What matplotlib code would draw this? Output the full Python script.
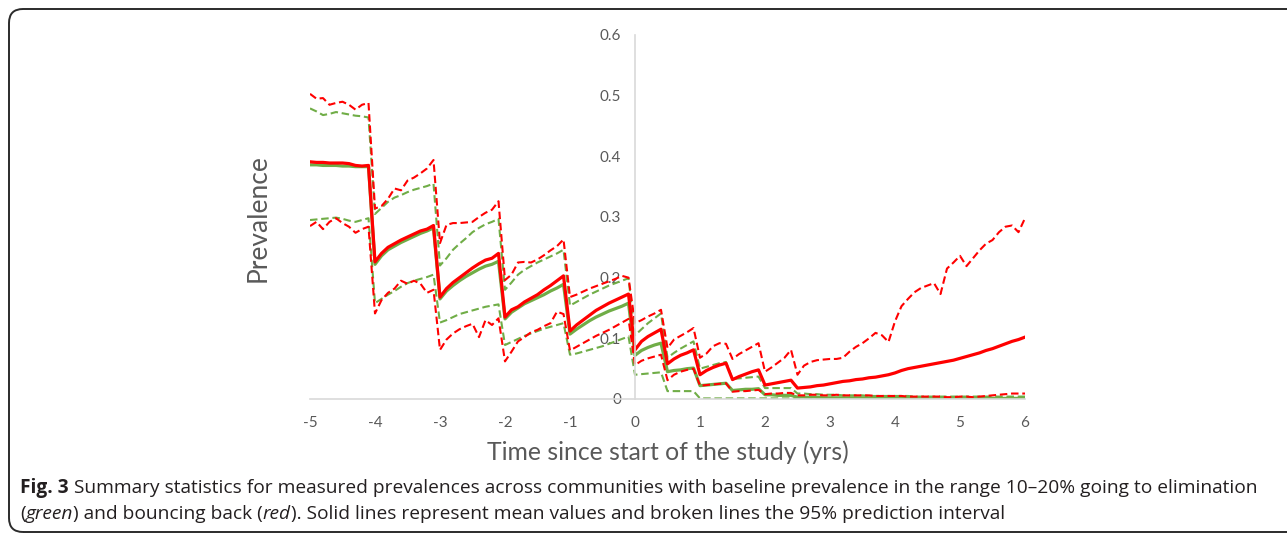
import numpy as np
import matplotlib
matplotlib.use("Agg")
from matplotlib import pyplot as plt
from matplotlib.patches import FancyBboxPatch
from matplotlib.transforms import IdentityTransform

# ---------------------------------------------------------------- data
# time since start of study (yrs), one value every 0.1 yr from -5 to 6
t = np.round(np.arange(-50, 61) / 10, 1)

# bouncing back (red) - mean
red_mean = [
    0.391, 0.390, 0.390, 0.389, 0.389, 0.389, 0.388, 0.385, 0.384, 0.385,  # -5 .. -4.1
    0.226, 0.240, 0.250, 0.256, 0.262, 0.267, 0.272, 0.277, 0.280, 0.286,  # -4 .. -3.1
    0.168, 0.182, 0.192, 0.200, 0.208, 0.216, 0.223, 0.229, 0.232, 0.240,  # -3 .. -2.1
    0.135, 0.147, 0.152, 0.160, 0.166, 0.172, 0.180, 0.187, 0.195, 0.203,  # -2 .. -1.1
    0.112, 0.122, 0.130, 0.138, 0.146, 0.152, 0.158, 0.163, 0.168, 0.173,  # -1 .. -0.1
    0.081, 0.095, 0.103, 0.109, 0.115,                                     # 0 .. 0.4
    0.058, 0.066, 0.072, 0.076, 0.081,                                     # 0.5 .. 0.9
    0.040, 0.047, 0.052, 0.056, 0.059,                                     # 1 .. 1.4
    0.032, 0.037, 0.041, 0.045, 0.048,                                     # 1.5 .. 1.9
    0.023, 0.025, 0.027, 0.029, 0.031,                                     # 2 .. 2.4
    0.018, 0.019, 0.020, 0.022, 0.023, 0.025, 0.027, 0.029, 0.030, 0.032,  # 2.5 .. 3.4
    0.033, 0.035, 0.036, 0.038, 0.040, 0.043, 0.047, 0.050, 0.052, 0.054,  # 3.5 .. 4.4
    0.056, 0.058, 0.060, 0.062, 0.064, 0.067, 0.070, 0.073, 0.076, 0.080,  # 4.5 .. 5.4
    0.083, 0.087, 0.091, 0.095, 0.098, 0.102,                              # 5.5 .. 6
]
red_upper = [
    0.503, 0.495, 0.496, 0.485, 0.488, 0.490, 0.485, 0.477, 0.485, 0.488,
    0.314, 0.318, 0.330, 0.347, 0.344, 0.360, 0.365, 0.372, 0.380, 0.394,
    0.257, 0.287, 0.290, 0.290, 0.291, 0.292, 0.300, 0.307, 0.312, 0.326,
    0.196, 0.205, 0.225, 0.226, 0.225, 0.230, 0.237, 0.245, 0.252, 0.263,
    0.168, 0.172, 0.177, 0.182, 0.186, 0.190, 0.194, 0.198, 0.203, 0.200,
    0.125, 0.130, 0.136, 0.141, 0.147,
    0.084, 0.098, 0.104, 0.110, 0.117,
    0.068, 0.075, 0.087, 0.092, 0.091,
    0.066, 0.074, 0.080, 0.086, 0.092,
    0.045, 0.052, 0.060, 0.068, 0.081,
    0.040, 0.055, 0.061, 0.064, 0.065, 0.066, 0.066, 0.068, 0.078, 0.086,
    0.092, 0.100, 0.109, 0.105, 0.094, 0.128, 0.153, 0.165, 0.176, 0.183,
    0.187, 0.191, 0.173, 0.215, 0.225, 0.236, 0.219, 0.232, 0.245, 0.256,
    0.262, 0.275, 0.284, 0.286, 0.275, 0.298,
]
red_lower = [
    0.285, 0.292, 0.280, 0.292, 0.298, 0.290, 0.284, 0.274, 0.280, 0.284,
    0.141, 0.163, 0.175, 0.182, 0.195, 0.190, 0.195, 0.190, 0.175, 0.180,
    0.081, 0.098, 0.108, 0.115, 0.120, 0.124, 0.102, 0.130, 0.122, 0.133,
    0.062, 0.078, 0.095, 0.102, 0.110, 0.114, 0.120, 0.125, 0.144, 0.140,
    0.080, 0.086, 0.092, 0.098, 0.104, 0.109, 0.114, 0.120, 0.126, 0.132,
    0.056, 0.063, 0.067, 0.070, 0.073,
    0.031, 0.040, 0.045, 0.048, 0.050,
    0.022, 0.023, 0.024, 0.025, 0.026,
    0.012, 0.013, 0.013, 0.014, 0.015,
    0.008, 0.009, 0.009, 0.010, 0.010,
    0.006, 0.006, 0.007, 0.007, 0.006, 0.006, 0.007, 0.006, 0.006, 0.006,
    0.006, 0.006, 0.005, 0.005, 0.005, 0.005, 0.005, 0.004, 0.004, 0.004,
    0.004, 0.004, 0.004, 0.003, 0.003, 0.004, 0.004, 0.003, 0.004, 0.005,
    0.006, 0.007, 0.008, 0.009, 0.009, 0.009,
]

# going to elimination (green)
green_mean = [
    0.386, 0.386, 0.385, 0.385, 0.385, 0.384, 0.384, 0.383, 0.383, 0.383,
    0.222, 0.236, 0.246, 0.252, 0.258, 0.263, 0.268, 0.273, 0.277, 0.282,
    0.165, 0.178, 0.187, 0.195, 0.202, 0.208, 0.214, 0.219, 0.222, 0.227,
    0.132, 0.143, 0.150, 0.157, 0.162, 0.167, 0.172, 0.178, 0.183, 0.189,
    0.107, 0.115, 0.122, 0.129, 0.135, 0.140, 0.145, 0.149, 0.153, 0.158,
    0.072, 0.080, 0.085, 0.089, 0.092,
    0.045, 0.047, 0.048, 0.050, 0.051,
    0.022, 0.023, 0.024, 0.025, 0.026,
    0.014, 0.015, 0.016, 0.016, 0.017,
    0.007, 0.007, 0.006, 0.006, 0.006,
    0.003, 0.003, 0.003, 0.003, 0.002, 0.002, 0.002, 0.002, 0.002, 0.002,
    0.002, 0.002, 0.002, 0.002, 0.002, 0.002, 0.002, 0.002, 0.001, 0.001,
    0.001, 0.001, 0.001, 0.001, 0.001, 0.001, 0.001, 0.001, 0.001, 0.001,
    0.001, 0.001, 0.001, 0.001, 0.001, 0.001,
]
green_upper = [
    0.479, 0.474, 0.468, 0.470, 0.473, 0.471, 0.469, 0.467, 0.466, 0.464,
    0.305, 0.315, 0.325, 0.332, 0.336, 0.341, 0.345, 0.348, 0.351, 0.355,
    0.220, 0.232, 0.246, 0.256, 0.265, 0.275, 0.282, 0.288, 0.292, 0.297,
    0.180, 0.192, 0.205, 0.213, 0.219, 0.225, 0.230, 0.235, 0.240, 0.246,
    0.154, 0.160, 0.166, 0.172, 0.177, 0.182, 0.187, 0.191, 0.195, 0.199,
    0.105, 0.115, 0.125, 0.133, 0.141,
    0.068, 0.076, 0.083, 0.089, 0.095,
    0.050, 0.053, 0.056, 0.059, 0.061,
    0.033, 0.034, 0.035, 0.036, 0.037,
    0.018, 0.018, 0.018, 0.018, 0.018,
    0.009, 0.009, 0.008, 0.008, 0.007, 0.007, 0.007, 0.006, 0.006, 0.006,
    0.006, 0.005, 0.005, 0.005, 0.005, 0.005, 0.005, 0.005, 0.004, 0.004,
    0.004, 0.004, 0.004, 0.004, 0.004, 0.004, 0.004, 0.004, 0.004, 0.004,
    0.004, 0.004, 0.004, 0.004, 0.004, 0.004,
]
green_lower = [
    0.295, 0.296, 0.297, 0.298, 0.299, 0.297, 0.294, 0.292, 0.295, 0.298,
    0.158, 0.165, 0.172, 0.178, 0.185, 0.191, 0.195, 0.198, 0.201, 0.205,
    0.126, 0.130, 0.135, 0.140, 0.143, 0.146, 0.149, 0.152, 0.154, 0.156,
    0.089, 0.094, 0.099, 0.104, 0.108, 0.112, 0.116, 0.119, 0.122, 0.125,
    0.073, 0.075, 0.078, 0.081, 0.084, 0.087, 0.091, 0.095, 0.099, 0.103,
    0.040, 0.041, 0.042, 0.043, 0.044,
    0.013, 0.013, 0.013, 0.013, 0.013,
    0.001, 0.001, 0.001, 0.001, 0.001,
    0.001, 0.001, 0.001, 0.001, 0.001,
    0.001, 0.001, 0.001, 0.001, 0.001,
] + [0.001] * 36

x_ticks = list(range(-5, 7))
y_ticks = [0, 0.1, 0.2, 0.3, 0.4, 0.5, 0.6]
y_tick_labels = ["0", "0.1", "0.2", "0.3", "0.4", "0.5", "0.6"]

# ---------------------------------------------------------------- style
W, H = 1287, 535
RED = "#FF0000"
GREEN = "#70AD47"
GREY_TXT = "#595959"
AXIS_COL = "#D9D9D9"
CHART_FONT = ["Lato", "DejaVu Sans"]
CAP_FONT = ["Open Sans", "DejaVu Sans"]
DASH = (0, (3.6, 1.8))

fig = plt.figure(figsize=(W / 100, H / 100), dpi=100)
ax = fig.add_axes([310 / W, (H - 399) / H, 715 / W, 364 / H])

ax.plot(t, green_upper, color=GREEN, lw=1.5, ls=DASH)
ax.plot(t, green_lower, color=GREEN, lw=1.5, ls=DASH)
ax.plot(t, green_mean, color=GREEN, lw=2.3)
ax.plot(t, red_upper, color=RED, lw=1.5, ls=DASH)
ax.plot(t, red_lower, color=RED, lw=1.5, ls=DASH)
ax.plot(t, red_mean, color=RED, lw=2.3)

ax.set_xlim(-5, 6)
ax.set_ylim(0, 0.6)
ax.set_xticks(x_ticks)
ax.set_xticklabels([str(v) for v in x_ticks])
ax.set_yticks(y_ticks)
ax.set_yticklabels(y_tick_labels)

for s in ("top", "right"):
    ax.spines[s].set_visible(False)
ax.spines["left"].set_position(("data", 0))
ax.spines["left"].set_color(AXIS_COL)
ax.spines["bottom"].set_color(AXIS_COL)
ax.spines["left"].set_linewidth(1.2)
ax.spines["bottom"].set_linewidth(1.2)
ax.set_axisbelow(True)
ax.tick_params(length=0, labelsize=11, labelcolor=GREY_TXT)
ax.tick_params(axis="x", pad=12)
ax.tick_params(axis="y", pad=10)
for lab in ax.get_xticklabels() + ax.get_yticklabels():
    lab.set_family(CHART_FONT)
ax.patch.set_alpha(0)

# axis titles
fig.text(258 / W, 1 - 218 / H, "Prevalence", rotation=90, ha="center", va="center",
         fontsize=19, color=GREY_TXT, family=CHART_FONT)
fig.text(668 / W, 1 - 452 / H, "Time since start of the study (yrs)", ha="center",
         va="center", fontsize=17.8, color=GREY_TXT, family=CHART_FONT)

# rounded frame round the figure
frame = FancyBboxPatch((9, 3), 1400, 523, boxstyle="round,pad=0,rounding_size=14",
                       transform=IdentityTransform(), fill=False, ec="#2b2b2b", lw=1.4)
fig.add_artist(frame)

# caption, written run by run so bold / italic parts sit inline
renderer = fig.canvas.get_renderer()


def put_runs(x_px, y_px, runs):
    for txt, weight, style in runs:
        tx = fig.text(x_px / W, 1 - y_px / H, txt, fontsize=13.8, color="#231F20",
                      family=CAP_FONT, weight=weight, style=style, va="center")
        x_px += tx.get_window_extent(renderer).width


put_runs(20, 488, [
    ("Fig. 3", "bold", "normal"),
    (" Summary statistics for measured prevalences across communities with baseline "
     "prevalence in the range 10\u201320% going to elimination", "normal", "normal"),
])
put_runs(20, 514, [
    ("(", "normal", "normal"),
    ("green", "normal", "italic"),
    (") and bouncing back (", "normal", "normal"),
    ("red", "normal", "italic"),
    ("). Solid lines represent mean values and broken lines the 95% prediction interval",
     "normal", "normal"),
])

fig.savefig("out.png", dpi=100)
